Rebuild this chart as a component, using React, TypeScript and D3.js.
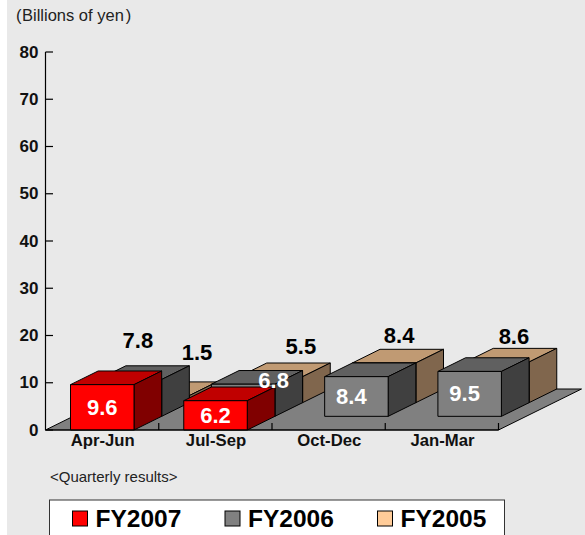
import React from "react";
import * as d3 from "d3";

const quarters = ["Apr-Jun", "Jul-Sep", "Oct-Dec", "Jan-Mar"];
const fy2007 = [9.6, 6.2];
const fy2006 = [7.8, 6.8, 8.4, 9.5];
const fy2005 = [1.5, 5.5, 8.4, 8.6];
const yTicks = [0, 10, 20, 30, 40, 50, 60, 70, 80];
const legendNames = ["FY2007", "FY2006", "FY2005"];

const FONT = "'Liberation Sans', Arial, sans-serif";

const y = d3.scaleLinear().domain([0, 80]).range([430, 52]);
const x = d3.scaleLinear().domain([0, 4]).range([45.5, 498.5]);
const depthX = d3.scaleLinear().domain([0, 3]).range([0, 83]);
const depthY = d3.scaleLinear().domain([0, 3]).range([0, -41]);

const BAR_OFFSET = 25;
const BAR_WIDTH = 63.5;

// Hand placement of the FY2005 labels, relative to the back top edge of each bar
const labelNudgeX = [39.4, 30, 15, 16.6];
const labelNudgeY = [-29, -16.3, -13.6, -11.7];

type Palette = { front: string; top: string; side: string };
const palettes: Palette[] = [
  { front: "#ff0000", top: "#c00000", side: "#800000" },
  { front: "#808080", top: "#606060", side: "#404040" },
  { front: "#ffcc99", top: "#c09a73", side: "#80664d" },
];

const poly = (pts: [number, number][]) => pts.map((p) => p.map((n) => n.toFixed(2)).join(",")).join(" ");

function Bar({ cat, depth, value, pal }: { cat: number; depth: number; value: number; pal: Palette }) {
  const x0 = x(cat) + BAR_OFFSET + depthX(depth);
  const x1 = x0 + BAR_WIDTH;
  const yb = y(value) + depthY(depth);
  const y0 = y(0) + depthY(depth);
  const dx = depthX(1);
  const dy = depthY(1);
  return (
    <g stroke="#000" strokeWidth={1} strokeLinejoin="round">
      <polygon points={poly([[x0, yb], [x1, yb], [x1 + dx, yb + dy], [x0 + dx, yb + dy]])} fill={pal.top} />
      <polygon points={poly([[x1, yb], [x1 + dx, yb + dy], [x1 + dx, y0 + dy], [x1, y0]])} fill={pal.side} />
      <rect x={x0} y={yb} width={BAR_WIDTH} height={y0 - yb} fill={pal.front} />
    </g>
  );
}

function Label({ px, py, text, fill }: { px: number; py: number; text: string; fill: string }) {
  return (
    <text x={px} y={py} textAnchor="middle" dominantBaseline="central" fontFamily={FONT} fontWeight="bold" fontSize={22} fill={fill}>
      {text}
    </text>
  );
}

export default function App() {
  const floor: [number, number][] = [
    [x(0), y(0)],
    [x(4), y(0)],
    [x(4) + depthX(3), y(0) + depthY(3)],
    [x(0) + depthX(3), y(0) + depthY(3)],
  ];
  const frontCx = (cat: number, depth: number) => x(cat) + BAR_OFFSET + depthX(depth) + BAR_WIDTH / 2;
  const frontMid = (v: number, depth: number) => (y(v) + y(0)) / 2 + depthY(depth);

  return (
    <svg width={585} height={535} style={{ position: "absolute", left: 0, top: 0, display: "block" }}>
      <rect x={7} y={0} width={578} height={535} fill="#e9e9e9" />

      <text x={16} y={21} fontFamily={FONT} fontSize={16.5} fill="#222">
        <tspan fontFamily="'Liberation Sans'" fontWeight="300">(</tspan>
        <tspan dx={0.5}>Billions of yen</tspan>
        <tspan dx={2}>)</tspan>
      </text>

      <polygon points={poly(floor)} fill="#808080" stroke="#000" strokeWidth={1} />

      {fy2005.map((v, i) => <Bar key={"c" + i} cat={i} depth={2} value={v} pal={palettes[2]} />)}
      {fy2006.map((v, i) => <Bar key={"b" + i} cat={i} depth={1} value={v} pal={palettes[1]} />)}
      {fy2007.map((v, i) => <Bar key={"a" + i} cat={i} depth={0} value={v} pal={palettes[0]} />)}

      <g stroke="#000" strokeWidth={1.2}>
        <line x1={x(0)} x2={x(0)} y1={y(80)} y2={y(0)} />
        {yTicks.map((t) => <line key={t} x1={x(0)} x2={x(0) + 7.5} y1={y(t)} y2={y(t)} />)}
        <line x1={x(0)} x2={x(4)} y1={y(0)} y2={y(0)} />
        {[1, 2, 3, 4].map((i) => <line key={i} x1={x(i)} x2={x(i)} y1={y(0)} y2={y(0) - 7} />)}
      </g>

      {yTicks.map((t) => (
        <text key={t} x={38.5} y={y(t)} textAnchor="end" dominantBaseline="central" fontFamily={FONT} fontWeight="bold" fontSize={17} fill="#111">
          {t}
        </text>
      ))}
      {quarters.map((q, i) => (
        <text key={q} x={x(i) + BAR_OFFSET + BAR_WIDTH / 2 + 0.5} y={440} textAnchor="middle" dominantBaseline="central" fontFamily={FONT} fontWeight="bold" fontSize={16.7} fill="#111">
          {q}
        </text>
      ))}

      {fy2005.map((v, i) => (
        <Label key={"lc" + i} px={frontCx(i, 2) + labelNudgeX[i]} py={y(v) + depthY(3) + labelNudgeY[i]} text={v.toFixed(1)} fill="#000" />
      ))}
      {fy2006.map((v, i) => {
        if (i === 0) {
          return <Label key={"lb0"} px={frontCx(0, 1) + 8} py={y(v) + depthY(2) - 25} text={v.toFixed(1)} fill="#000" />;
        }
        const nudgeX = i === 1 ? 30.5 : -5;
        const nudgeY = i === 1 ? -20 : 0;
        return <Label key={"lb" + i} px={frontCx(i, 1) + nudgeX} py={frontMid(v, 1) + nudgeY} text={v.toFixed(1)} fill="#fff" />;
      })}
      {fy2007.map((v, i) => (
        <Label key={"la" + i} px={frontCx(i, 0)} py={frontMid(v, 0) + 0.5} text={v.toFixed(1)} fill="#fff" />
      ))}

      <text x={50} y={482} fontFamily={FONT} fontSize={15} fill="#222">{"<Quarterly results>"}</text>

      <rect x={49.5} y={500} width={455} height={40} fill="#fff" stroke="#333" strokeWidth={1} />
      {legendNames.map((n, i) => {
        const lx = [72.5, 225, 377.5][i];
        return (
          <g key={n}>
            <rect x={lx} y={511} width={15} height={15} fill={palettes[i].front} stroke="#000" strokeWidth={1} />
            <text x={lx + 23} y={527} fontFamily={FONT} fontWeight="bold" fontSize={24.5} fill="#000">{n}</text>
          </g>
        );
      })}
    </svg>
  );
}
